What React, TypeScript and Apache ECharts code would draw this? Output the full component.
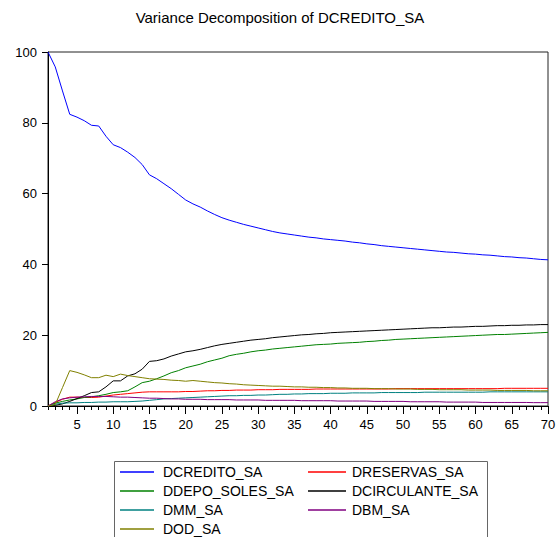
import React, { useEffect, useRef } from "react";
import * as echarts from "echarts";

// Forecast horizon (periods 1..70)
const periods: string[] = Array.from({ length: 70 }, (_, i) => String(i + 1));

const seriesNames = [
  "DCREDITO_SA",
  "DRESERVAS_SA",
  "DDEPO_SOLES_SA",
  "DCIRCULANTE_SA",
  "DMM_SA",
  "DBM_SA",
  "DOD_SA",
];

const seriesColors = ["#0000FF", "#FF0000", "#008000", "#000000", "#008080", "#800080", "#808000"];

// Share of forecast error variance (%) explained by each shock
const dcredito = [
  100, 95.8, 89.0, 82.4, 81.6, 80.6, 79.3, 79.1, 76.2, 73.8,
  73.0, 71.7, 70.2, 68.2, 65.3, 64.2, 62.8, 61.4, 59.8, 58.2,
  57.1, 56.2, 55.1, 54.1, 53.2, 52.5, 51.9, 51.3, 50.8, 50.3,
  49.8, 49.3, 48.9, 48.6, 48.3, 48.0, 47.7, 47.5, 47.2, 47.0,
  46.8, 46.6, 46.3, 46.1, 45.8, 45.6, 45.3, 45.1, 44.9, 44.7,
  44.5, 44.3, 44.1, 43.9, 43.7, 43.5, 43.4, 43.2, 43.0, 42.9,
  42.7, 42.6, 42.4, 42.2, 42.1, 41.9, 41.8, 41.6, 41.4, 41.3,
];

const dreservas = [
  0, 1.0, 1.9, 2.5, 2.5, 2.4, 2.4, 2.5, 2.8, 3.1,
  3.3, 3.5, 3.7, 3.9, 4.0, 4.0, 4.0, 4.0, 4.0, 4.1,
  4.1, 4.2, 4.3, 4.3, 4.4, 4.4, 4.5, 4.5, 4.5, 4.6,
  4.6, 4.6, 4.7, 4.7, 4.7, 4.7, 4.7, 4.8, 4.8, 4.8,
  4.8, 4.8, 4.8, 4.8, 4.8, 4.8, 4.8, 4.8, 4.9, 4.9,
  4.9, 4.9, 4.9, 4.9, 4.9, 4.9, 4.9, 4.9, 4.9, 4.9,
  4.9, 4.9, 4.9, 5.0, 5.0, 5.0, 5.0, 5.0, 5.0, 5.0,
];

const ddepoSoles = [
  0, 0.8, 1.3, 1.7, 2.0, 2.4, 2.6, 2.9, 3.3, 3.8,
  4.0, 4.3, 5.4, 6.6, 7.0, 7.7, 8.5, 9.4, 10.0, 10.8,
  11.3, 11.8, 12.5, 13.0, 13.5, 14.2, 14.6, 14.9, 15.3, 15.6,
  15.8, 16.1, 16.3, 16.5, 16.7, 16.9, 17.1, 17.3, 17.4, 17.5,
  17.7, 17.8, 17.9, 18.0, 18.2, 18.3, 18.5, 18.6, 18.8, 18.9,
  19.0, 19.1, 19.2, 19.3, 19.4, 19.5, 19.6, 19.7, 19.8, 19.9,
  20.0, 20.1, 20.2, 20.2, 20.3, 20.4, 20.5, 20.6, 20.7, 20.8,
];

const dcirculante = [
  0, 0.2, 0.6, 1.3, 2.1, 2.9, 3.8, 4.0, 5.4, 7.1,
  7.1, 8.5, 9.1, 10.4, 12.6, 12.8, 13.3, 14.1, 14.7, 15.3,
  15.6, 16.0, 16.5, 17.0, 17.4, 17.7, 18.0, 18.3, 18.6, 18.8,
  19.0, 19.3, 19.5, 19.7, 19.9, 20.1, 20.2, 20.4, 20.5, 20.7,
  20.8, 20.9, 21.0, 21.1, 21.2, 21.3, 21.4, 21.5, 21.6, 21.7,
  21.8, 21.9, 22.0, 22.1, 22.1, 22.2, 22.3, 22.3, 22.4, 22.5,
  22.5, 22.6, 22.7, 22.7, 22.8, 22.8, 22.9, 22.9, 23.0, 23.0,
];

const dmm = [
  0, 0.5, 0.8, 0.9, 0.9, 1.0, 1.0, 1.1, 1.1, 1.2,
  1.2, 1.2, 1.3, 1.4, 1.6, 1.8, 2.0, 2.1, 2.2, 2.3,
  2.4, 2.5, 2.6, 2.7, 2.8, 2.9, 2.9, 3.0, 3.0, 3.1,
  3.1, 3.2, 3.3, 3.3, 3.4, 3.4, 3.5, 3.5, 3.5, 3.6,
  3.6, 3.6, 3.7, 3.7, 3.7, 3.7, 3.8, 3.8, 3.8, 3.8,
  3.8, 3.8, 3.9, 3.9, 3.9, 3.9, 3.9, 3.9, 3.9, 3.9,
  3.9, 4.0, 4.0, 4.0, 4.0, 4.0, 4.0, 4.0, 4.0, 4.0,
];

const dbm = [
  0, 1.2, 2.0, 2.3, 2.5, 2.6, 2.7, 2.7, 2.7, 2.6,
  2.5, 2.5, 2.4, 2.3, 2.2, 2.2, 2.1, 2.0, 2.0, 1.9,
  1.9, 1.9, 1.8, 1.8, 1.8, 1.8, 1.7, 1.7, 1.7, 1.7,
  1.6, 1.6, 1.6, 1.6, 1.6, 1.5, 1.5, 1.5, 1.5, 1.5,
  1.4, 1.4, 1.4, 1.4, 1.4, 1.3, 1.3, 1.3, 1.3, 1.3,
  1.2, 1.2, 1.2, 1.2, 1.2, 1.1, 1.1, 1.1, 1.1, 1.1,
  1.0, 1.0, 1.0, 1.0, 1.0, 1.0, 1.0, 0.95, 0.95, 0.95,
];

const dod = [
  0, 0.4, 5.2, 10.0, 9.5, 8.8, 8.0, 8.0, 8.7, 8.3,
  9.0, 8.6, 8.3, 8.0, 7.7, 7.6, 7.5, 7.3, 7.2, 7.0,
  7.2, 7.0, 6.8, 6.6, 6.5, 6.3, 6.2, 6.0, 5.9, 5.8,
  5.7, 5.6, 5.6, 5.5, 5.4, 5.4, 5.3, 5.3, 5.2, 5.2,
  5.1, 5.1, 5.0, 5.0, 5.0, 4.9, 4.9, 4.9, 4.8, 4.8,
  4.8, 4.7, 4.7, 4.7, 4.6, 4.6, 4.6, 4.6, 4.5, 4.5,
  4.5, 4.5, 4.4, 4.4, 4.4, 4.4, 4.4, 4.3, 4.3, 4.3,
];

const seriesValues = [dcredito, dreservas, ddepoSoles, dcirculante, dmm, dbm, dod];

const yTicks = [0, 20, 40, 60, 80, 100];

const FONT = "'Liberation Sans', Arial, Helvetica, sans-serif";

export default function App() {
  const ref = useRef<HTMLDivElement>(null);

  useEffect(() => {
    document.body.style.margin = "0";
    if (!ref.current) return;
    const chart = echarts.init(ref.current, null, { renderer: "svg" });

    const isMajor = (i: number) => (i + 1) % 5 === 0;

    const legendBase = {
      orient: "vertical",
      top: 465,
      padding: 0,
      icon: "rect",
      itemWidth: 34,
      itemHeight: 1.5,
      itemGap: 5,
      textStyle: { fontFamily: FONT, fontSize: 14, color: "#000", height: 14, lineHeight: 14, padding: [0, 0, 0, 4] },
    };

    chart.setOption({
      animation: false,
      backgroundColor: "#ffffff",
      title: {
        text: "Variance Decomposition of DCREDITO_SA",
        left: "center",
        top: 5,
        textStyle: { fontFamily: FONT, fontSize: 15, fontWeight: "normal", color: "#000" },
      },
      grid: {
        left: 48,
        right: 12,
        top: 52,
        bottom: 131,
        show: true,
        borderColor: "#222",
        borderWidth: 1,
        backgroundColor: "transparent",
      },
      xAxis: [
        {
          type: "category",
          data: periods,
          boundaryGap: false,
          position: "bottom",
          axisLine: { show: true, lineStyle: { color: "#000", width: 1 } },
          axisTick: { show: true, interval: 0, length: 4, lineStyle: { color: "#000" } },
          axisLabel: { show: false },
          splitLine: { show: false },
        },
        {
          type: "category",
          data: periods,
          boundaryGap: false,
          position: "bottom",
          axisLine: { show: false },
          axisTick: { show: true, interval: (i: number) => isMajor(i), length: 8, lineStyle: { color: "#000" } },
          axisLabel: {
            show: true,
            interval: (i: number) => isMajor(i),
            margin: 12,
            fontFamily: FONT,
            fontSize: 13,
            color: "#000",
          },
          splitLine: { show: false },
        },
      ],
      yAxis: {
        type: "value",
        min: yTicks[0],
        max: yTicks[yTicks.length - 1],
        interval: 20,
        axisLine: { show: true, lineStyle: { color: "#000", width: 1 } },
        axisTick: { show: true, length: 6, lineStyle: { color: "#000" } },
        axisLabel: { margin: 11, fontFamily: FONT, fontSize: 13, color: "#000" },
        splitLine: { show: false },
      },
      legend: [
        {
          ...legendBase,
          left: 120,
          data: [seriesNames[0], seriesNames[2], seriesNames[4], seriesNames[6]],
        },
        {
          ...legendBase,
          left: 308,
          itemWidth: 38,
          textStyle: { ...legendBase.textStyle, padding: [0, 0, 0, 1] },
          data: [seriesNames[1], seriesNames[3], seriesNames[5]],
        },
      ],
      graphic: [
        {
          type: "rect",
          left: 112,
          top: 459,
          shape: { width: 373, height: 100 },
          style: { fill: "none", stroke: "#666", lineWidth: 1 },
          silent: true,
        },
      ],
      series: seriesNames.map((name, k) => ({
        name,
        type: "line",
        xAxisIndex: 0,
        data: seriesValues[k],
        symbol: "none",
        lineStyle: { color: seriesColors[k], width: 1 },
        itemStyle: { color: seriesColors[k] },
      })),
    });

    return () => chart.dispose();
  }, []);

  return <div ref={ref} style={{ width: 560, height: 537 }} />;
}
